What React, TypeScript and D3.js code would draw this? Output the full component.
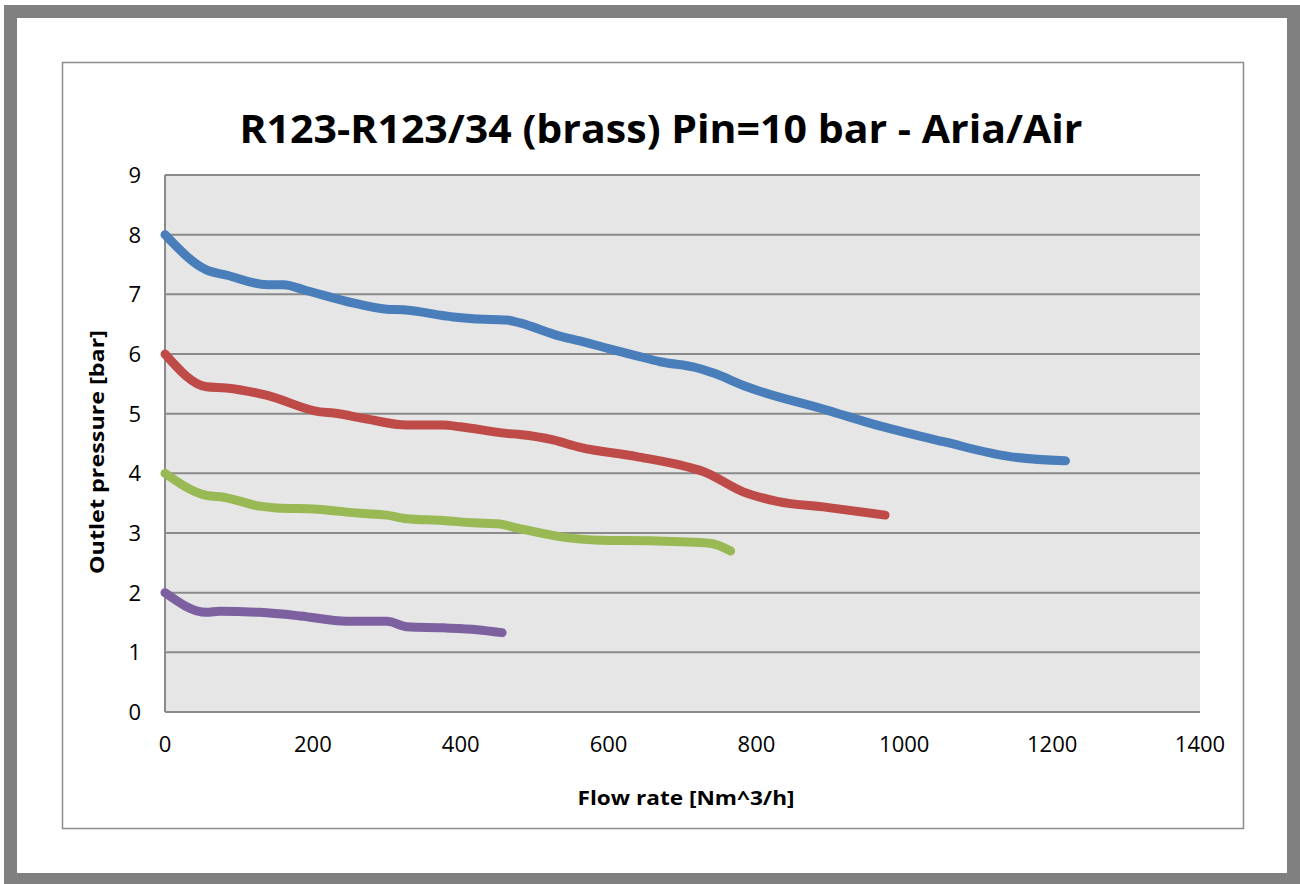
import { useRef, useEffect } from 'react';
import * as d3 from 'd3';

const title = 'R123-R123/34 (brass) Pin=10 bar - Aria/Air';
const xLabel = 'Flow rate [Nm^3/h]';
const yLabel = 'Outlet pressure [bar]';

const xTicks = [0, 200, 400, 600, 800, 1000, 1200, 1400];
const yTicks = [0, 1, 2, 3, 4, 5, 6, 7, 8, 9];

// series: [flow, pressure]
const blue = [
  [0, 8], [56, 7.41], [84, 7.32], [138, 7.16], [160, 7.16], [192, 7.06], [246, 6.88],
  [300, 6.75], [322, 6.74], [390, 6.62], [417, 6.59], [462, 6.57], [480, 6.52],
  [534, 6.3], [561, 6.22], [600, 6.09], [638, 5.97], [670, 5.87], [719, 5.77], [742, 5.68],
  [787, 5.45], [895, 5.06], [968, 4.79], [1053, 4.53], [1143, 4.28], [1218, 4.21],
];
const red = [
  [0, 6], [56, 5.45], [83, 5.43], [137, 5.31], [210, 5.03], [228, 5.01], [273, 4.91],
  [327, 4.81], [376, 4.81], [399, 4.78], [462, 4.67], [480, 4.65], [525, 4.56],
  [560, 4.44], [638, 4.28], [706, 4.11], [728, 4.03], [782, 3.69], [828, 3.53],
  [895, 3.43], [974, 3.3],
];
const green = [
  [0, 4], [56, 3.63], [79, 3.6], [128, 3.45], [151, 3.42], [205, 3.4], [264, 3.33],
  [300, 3.3], [327, 3.24], [376, 3.21], [417, 3.17], [453, 3.15], [471, 3.1],
  [534, 2.94], [589, 2.88], [656, 2.87], [737, 2.83], [765, 2.7],
];
const purple = [
  [0, 2], [56, 1.67], [74, 1.69], [128, 1.67], [183, 1.61], [246, 1.52], [300, 1.52],
  [327, 1.43], [376, 1.41], [422, 1.38], [456, 1.33],
];

const seriesList = [blue, red, green, purple];
const seriesColors = ['#4a7ebb', '#be4b48', '#98b954', '#7d60a0'];

export default function App() {
  const ref = useRef<SVGSVGElement>(null);

  useEffect(() => {
    const width = 1300;
    const height = 884;
    const font = '"Open Sans", "DejaVu Sans", sans-serif';

    const svg = d3.select(ref.current);
    svg.selectAll('*').remove();

    // outer frame
    svg.append('rect').attr('width', width).attr('height', height).attr('fill', 'white');
    svg
      .append('rect')
      .attr('x', 10.5)
      .attr('y', 11.5)
      .attr('width', 1283)
      .attr('height', 868)
      .attr('fill', 'none')
      .attr('stroke', '#808080')
      .attr('stroke-width', 13);

    // chart area border
    svg
      .append('rect')
      .attr('x', 62.5)
      .attr('y', 62.5)
      .attr('width', 1181)
      .attr('height', 766)
      .attr('fill', 'white')
      .attr('stroke', '#8c8c8c')
      .attr('stroke-width', 1.5);

    const left = 165;
    const right = 1200;
    const top = 175;
    const bottom = 712;

    const x = d3.scaleLinear().domain([0, 1400]).range([left, right]);
    const y = d3.scaleLinear().domain([0, 9]).range([bottom, top]);

    svg
      .append('rect')
      .attr('x', left)
      .attr('y', top)
      .attr('width', right - left)
      .attr('height', bottom - top)
      .attr('fill', '#e6e6e6');

    // gridlines
    svg
      .append('g')
      .selectAll('line')
      .data(yTicks)
      .join('line')
      .attr('x1', left)
      .attr('x2', right)
      .attr('y1', (d) => y(d))
      .attr('y2', (d) => y(d))
      .attr('stroke', '#8a8a8a')
      .attr('stroke-width', 2);

    svg
      .append('line')
      .attr('x1', left)
      .attr('x2', left)
      .attr('y1', top)
      .attr('y2', bottom)
      .attr('stroke', '#8a8a8a')
      .attr('stroke-width', 2);

    // tick labels
    svg
      .append('g')
      .selectAll('text')
      .data(yTicks)
      .join('text')
      .attr('x', 141)
      .attr('y', (d) => y(d) + 8)
      .attr('text-anchor', 'end')
      .style('font-family', font)
      .style('font-size', '22px')
      .attr('fill', '#000')
      .text((d) => d);

    svg
      .append('g')
      .selectAll('text')
      .data(xTicks)
      .join('text')
      .attr('x', (d) => x(d))
      .attr('y', 752)
      .attr('text-anchor', 'middle')
      .style('font-family', font)
      .style('font-size', '22px')
      .attr('fill', '#000')
      .text((d) => d);

    // lines
    const line = d3
      .line<number[]>()
      .x((d) => x(d[0]))
      .y((d) => y(d[1]))
      .curve(d3.curveMonotoneX);

    svg
      .append('g')
      .selectAll('path')
      .data(seriesList)
      .join('path')
      .attr('d', (d) => line(d))
      .attr('fill', 'none')
      .attr('stroke', (_, i) => seriesColors[i])
      .attr('stroke-width', 9)
      .attr('stroke-linecap', 'round')
      .attr('stroke-linejoin', 'round');

    // title and axis labels
    svg
      .append('text')
      .attr('x', 661)
      .attr('y', 143)
      .attr('text-anchor', 'middle')
      .attr('textLength', 843)
      .attr('lengthAdjust', 'spacingAndGlyphs')
      .style('font-family', font)
      .style('font-size', '40px')
      .style('font-weight', 'bold')
      .text(title);

    svg
      .append('text')
      .attr('x', 686)
      .attr('y', 805)
      .attr('text-anchor', 'middle')
      .attr('textLength', 217)
      .attr('lengthAdjust', 'spacingAndGlyphs')
      .style('font-family', font)
      .style('font-size', '20px')
      .style('font-weight', 'bold')
      .text(xLabel);

    svg
      .append('text')
      .attr('transform', 'translate(104, 452) rotate(-90)')
      .attr('text-anchor', 'middle')
      .attr('textLength', 244)
      .attr('lengthAdjust', 'spacingAndGlyphs')
      .style('font-family', font)
      .style('font-size', '20px')
      .style('font-weight', 'bold')
      .text(yLabel);
  }, []);

  return (
    <svg
      ref={ref}
      width={1300}
      height={884}
      style={{ position: 'absolute', left: 0, top: 0, display: 'block' }}
    />
  );
}
